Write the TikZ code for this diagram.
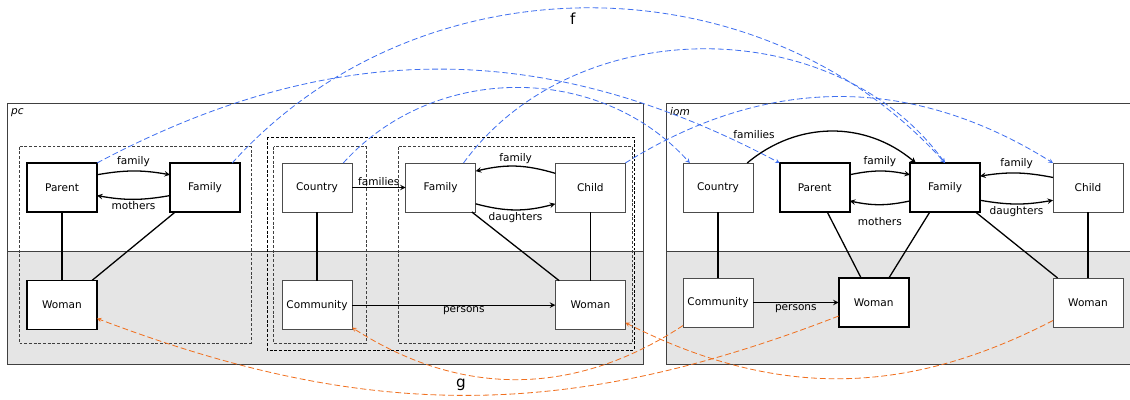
\documentclass[tikz,border=0pt]{standalone}
\usepackage{fontspec}
\setmainfont{DejaVu Sans}[ItalicFont={DejaVu Sans Oblique}]
\usepackage{tikz}
\usepackage{xcolor}
\usetikzlibrary{arrows,positioning}

\definecolor{fblue}{RGB}{64,112,240}
\definecolor{gorange}{RGB}{240,112,32}

\begin{document}
\begin{tikzpicture}[
        x=0.03cm, y=-0.03cm,
        font=\fontsize{9}{11}\selectfont,
        box/.style={rectangle, draw=black!70, fill=white, line width=0.8pt, outer sep=0pt,
                    minimum width=2.1cm, minimum height=1.47cm, inner sep=0pt},
        boldbox/.style={box, draw=black, line width=1.4pt},
        frame/.style={draw=black!75, line width=0.8pt},
        region/.style={draw=black!75, dash pattern=on 2.5pt off 1.5pt, line width=0.6pt},
        line/.style={draw, line width=1.1pt, -stealth},
        tie/.style={draw, line width=1.1pt},
        fmap/.style={draw=fblue, dash pattern=on 5pt off 2.5pt, line width=0.7pt, -stealth},
        gmap/.style={draw=gorange, dash pattern=on 5pt off 2.5pt, line width=0.7pt, -stealth},
        lbl/.style={inner sep=1pt},
        big/.style={font=\fontsize{13}{15}\selectfont}
    ]
    \useasboundingbox (0,0) rectangle (1130,400);
    \clip (0,0) rectangle (1130,400);

    % Panels
    \fill[black!10] (7,251) rectangle (643,364);
    \draw[frame] (7,103) rectangle (643,364);
    \draw[frame] (7,251) -- (643,251);
    \fill[black!10] (666.5,251) rectangle (1131,364);
    \draw[frame] (666.5,103) rectangle (1131,364);
    \draw[frame] (666.5,251) -- (1131,251);
    \node[anchor=west, font=\fontsize{9}{11}\selectfont\itshape] at (7,113) {pc};
    \node[anchor=west, font=\fontsize{9}{11}\selectfont\itshape] at (666,112) {iom};

    % Regions
    \draw[region] (19,146.7) rectangle (251,343);
    \draw[region, draw=black] (267,137) rectangle (634,350);
    \draw[region] (273.7,146.7) rectangle (366,343);
    \draw[region] (398.7,146.7) rectangle (632.7,343);

    % pc
    \node[boldbox] (parentP) at (62,187.5) {Parent};
    \node[boldbox, right=2.19cm of parentP] (familyP) {Family};
    \node[boldbox, below=2.06cm of parentP] (womanP) {Woman};
    \node[box] (countryP) at (317,187.5) {Country};
    \node[box, below=2.06cm of countryP] (communityP) {Community};
    \node[box, right=1.61cm of countryP] (familyQ) {Family};
    \node[box, right=2.39cm of familyQ] (childP) {Child};
    \node[box, below=2.06cm of childP] (womanQ) {Woman};

    \draw[line] (parentP.20) to[bend left=10] node[above] {family} (familyP.160);
    \draw[line] (familyP.193) to[bend left=10] node[below, lbl] {mothers} (parentP.-13);
    \draw[tie] (parentP) -- (womanP);
    \draw[tie] (familyP) -- (womanP);
    \draw[line] (countryP) -- node[above, lbl] {families} (familyQ);
    \draw[tie] (countryP) -- (communityP);
    \draw[line] (childP.158) to[bend right=15] node[above, inner sep=2pt] {family} (familyQ.25);
    \draw[line] (familyQ.-25) to[bend right=15] node[below, inner sep=1.5pt] {daughters} (childP.205);
    \draw[tie] (familyQ) -- (womanQ);
    \draw[tie] (childP) -- (womanQ);
    \draw[line] (communityP) -- node[pos=0.55, below, lbl] {persons} (womanQ);

    % iom
    \node[box] (countryI) at (718,187.5) {Country};
    \node[boldbox, right=0.8cm of countryI] (parentI) {Parent};
    \node[boldbox, right=1.81cm of parentI] (familyI) {Family};
    \node[box, right=2.19cm of familyI] (childI) {Child};
    \node[box, below=1.98cm of countryI] (communityI) {Community};
    \node[boldbox, right=2.57cm of communityI] (womanI) {Woman};
    \node[box, below=1.98cm of childI] (womanJ) {Woman};

    \draw[line] (countryI) to[bend left=40] node[pos=0.2, above left] {families} (familyI);
    \draw[line] (parentI.20) to[bend left=12] node[above] {family} (familyI.160);
    \draw[line] (familyI.-159) to[bend left=12] node[below=7pt] {mothers} (parentI.-21);
    \draw[line] (childI.164) to[bend right=10] node[above] {family} (familyI.18);
    \draw[line] (familyI.-20) to[bend right=10] node[below, inner sep=1.5pt] {daughters} (childI.200);
    \draw[tie] (countryI) -- (communityI);
    \draw[tie] (parentI) -- (womanI);
    \draw[tie] (familyI) -- (womanI);
    \draw[tie] (familyI) -- (womanJ);
    \draw[tie] (childI) -- (womanJ);
    \draw[line] (communityI) -- node[below, lbl] {persons} (womanI);

    % f
    \draw[fmap] (parentP.north east) to[bend left=28] (parentI.north west);
    \draw[fmap] (familyP.42) to[bend left=48] node[pos=0.48, below, big] {f} (familyI.north);
    \draw[fmap] (countryP.43) to[bend left=48] (countryI.139);
    \draw[fmap] (familyQ.47) to[bend left=54] (familyI.north);
    \draw[fmap] (childP.north east) to[bend left=32] (childI.north west);

    % g
    \draw[gmap] (communityI) to[bend left=33] (communityP);
    \draw[gmap] (womanI) to[bend left=21] node[pos=0.51, above, big] {g} (womanP);
    \draw[gmap] (womanJ) to[bend left=27] (womanQ);
\end{tikzpicture}
\end{document}
